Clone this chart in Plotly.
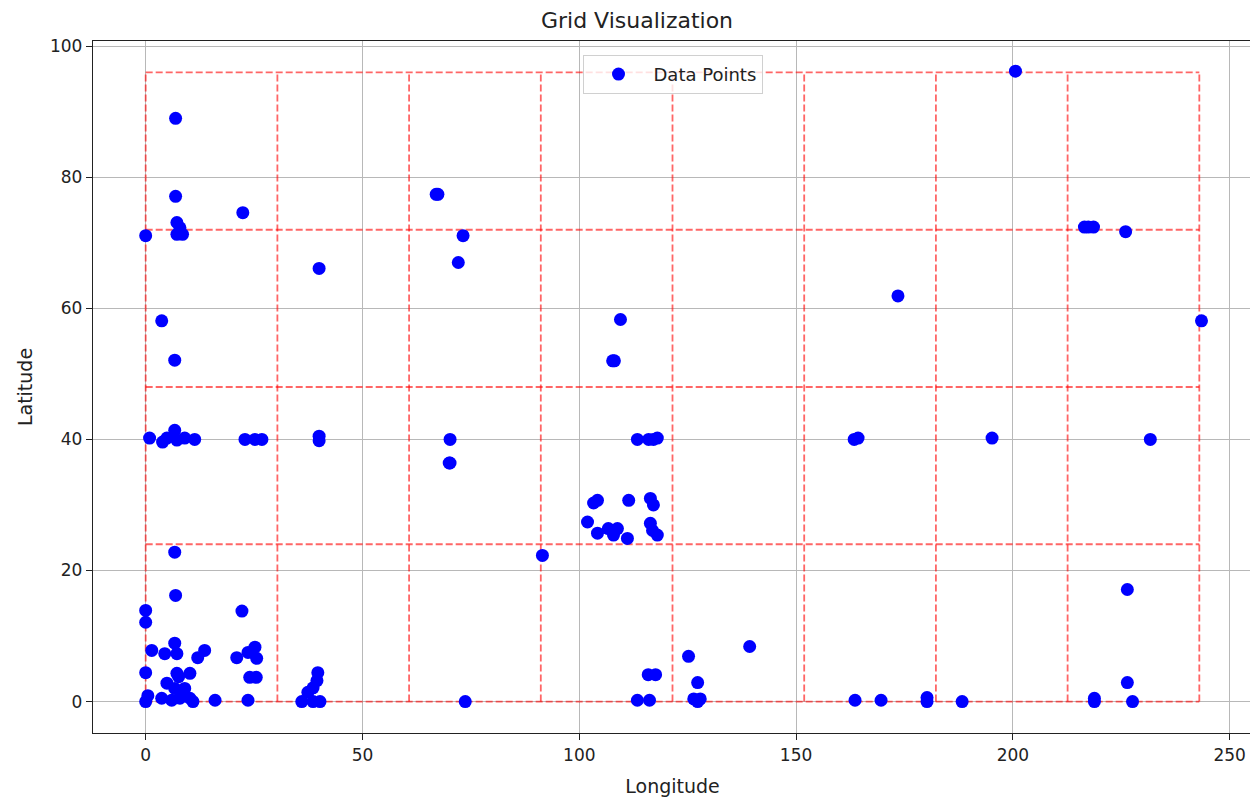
import plotly.graph_objects as go

# Data points (longitude, latitude)
longitude = [
    6.9, 0.0, 0.0, 22.2, 1.4, 4.4, 6.7, 7.2, 12.0, 13.6, 21.0, 23.6, 25.2, 25.6, 24.0, 25.5,
    0.0, 7.2, 7.6, 10.2, 4.9, 6.7, 9.0, 8.5, 0.5, 0.0, 3.7, 6.0, 7.9, 10.2, 10.9, 16.0, 23.6,
    39.7, 39.5, 38.6, 37.4, 36.0, 38.6, 40.2,
    0.9, 3.9, 4.9, 6.7, 7.2, 9.0, 11.3, 22.9, 25.2, 26.8,
    113.4, 116.0, 117.1, 118.0, 104.2, 103.3, 111.4, 116.4, 117.1, 101.9, 104.2, 106.7, 108.8,
    107.9, 111.1, 116.4, 116.9, 118.0,
    6.9, 6.9, 22.4, 7.2, 7.9, 0.0, 7.2, 8.5, 40.0,
    113.4, 116.2, 115.9, 117.6, 125.2, 127.3, 126.4, 127.9, 127.3, 139.3,
    216.5, 217.4, 218.6, 226.0,
    3.7, 6.7, 6.7, 40.0, 40.0, 67.0, 67.4, 73.2, 72.1, 70.2, 70.2, 70.0, 73.7, 91.5, 109.5,
    107.7, 108.1, 163.4, 164.3, 173.5, 163.6, 169.6, 180.2, 180.2, 188.3, 195.2, 200.6,
    231.7, 243.5, 226.4, 226.4, 227.6, 218.8, 218.8,
]
latitude = [
    16.2, 13.9, 12.1, 13.8, 7.8, 7.3, 8.9, 7.3, 6.7, 7.8, 6.7, 7.5, 8.3, 6.6, 3.7, 3.7,
    4.4, 4.3, 3.8, 4.3, 2.8, 2.0, 2.0, 1.2, 0.9, 0.0, 0.5, 0.2, 0.5, 0.5, 0.0, 0.2, 0.2,
    4.4, 3.2, 2.1, 1.4, 0.0, 0.0, 0.0,
    40.2, 39.6, 40.2, 41.4, 39.9, 40.2, 40.0, 40.0, 40.0, 40.0,
    40.0, 40.0, 40.0, 40.2, 30.7, 30.3, 30.7, 31.0, 30.0, 27.4, 25.7, 26.4, 26.4,
    25.4, 24.9, 27.2, 26.1, 25.4,
    89.0, 77.1, 74.6, 73.1, 72.3, 71.1, 71.3, 71.3, 66.1,
    0.2, 0.2, 4.1, 4.1, 6.9, 2.9, 0.4, 0.4, 0.0, 8.4,
    72.4, 72.4, 72.4, 71.7,
    58.1, 52.1, 22.8, 40.5, 39.8, 77.4, 77.4, 71.1, 67.0, 40.0, 36.4, 36.4, 0.0, 22.3, 58.3,
    52.0, 52.0, 40.0, 40.2, 61.9, 0.2, 0.2, 0.6, 0.0, 0.0, 40.2, 96.2,
    40.0, 58.1, 17.1, 2.9, 0.0, 0.5, 0.0,
]

# Grid cell edges
lon_edges = [0.0, 30.375, 60.75, 91.125, 121.5, 151.875, 182.25, 212.625, 243.0]
lat_edges = [0.0, 24.0, 48.0, 72.0, 96.0]

x_ticks = [0, 50, 100, 150, 200, 250]
y_ticks = [0, 20, 40, 60, 80, 100]

fig = go.Figure()

red = "rgba(255,0,0,0.6)"
for xe in lon_edges:
    fig.add_trace(go.Scatter(x=[xe, xe], y=[lat_edges[0], lat_edges[-1]], mode="lines",
                             line=dict(color=red, width=1.8, dash="7px,3px"),
                             showlegend=False, hoverinfo="skip"))
for ye in lat_edges:
    fig.add_trace(go.Scatter(x=[lon_edges[0], lon_edges[-1]], y=[ye, ye], mode="lines",
                             line=dict(color=red, width=1.8, dash="7px,3px"),
                             showlegend=False, hoverinfo="skip"))

fig.add_trace(go.Scatter(x=longitude, y=latitude, mode="markers", name="Data Points",
                         marker=dict(color="blue", size=13, line=dict(width=0))))

axis_common = dict(
    showline=True, linecolor="#222", linewidth=1.3, mirror=True,
    ticks="outside", ticklen=6, tickcolor="#222",
    showgrid=True, gridcolor="#b8b8b8", gridwidth=1, zeroline=False,
    tickfont=dict(family="DejaVu Sans", size=17, color="#222"),
)

fig.update_layout(
    width=1258, height=800,
    paper_bgcolor="white", plot_bgcolor="white",
    margin=dict(l=85, r=14, t=33, b=75),
    title=dict(text="Grid Visualization", x=0.5, xanchor="center", y=0.985, yanchor="middle",
               font=dict(family="DejaVu Sans", size=22, color="#222")),
    font=dict(family="DejaVu Sans", color="#222"),
    xaxis=dict(range=[-12.15, 255.15], tickvals=x_ticks,
               title=dict(text="Longitude", font=dict(size=19), standoff=16), **axis_common),
    yaxis=dict(range=[-4.8, 100.8], tickvals=y_ticks,
               title=dict(text="Latitude", font=dict(size=19), standoff=12), **axis_common),
    legend=dict(x=0.5, y=0.98, xanchor="center", yanchor="top", itemwidth=60,
                bgcolor="rgba(255,255,255,0.8)", bordercolor="#d0d0d0", borderwidth=1,
                font=dict(family="DejaVu Sans", size=18, color="#222")),
)

fig.write_html("out.html")
